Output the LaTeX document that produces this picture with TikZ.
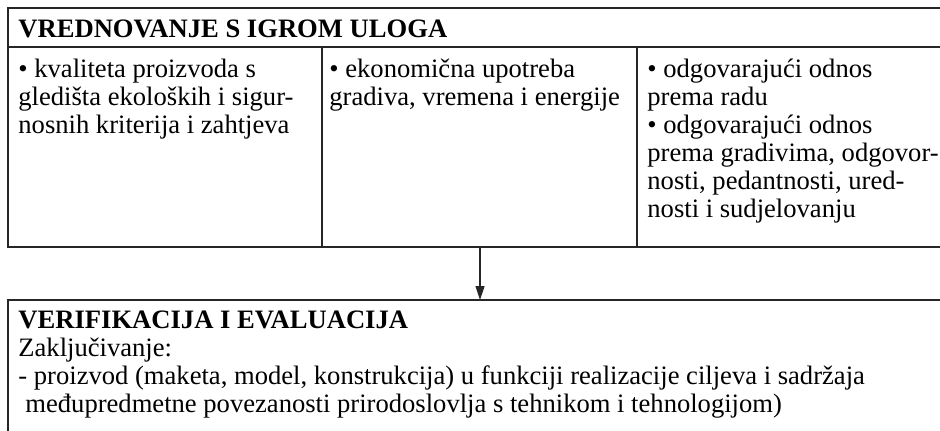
\documentclass[tikz,border=0pt]{standalone}
\usepackage{fontspec}
\setmainfont{Liberation Serif}
\usetikzlibrary{arrows.meta}

\tikzset{
  frame/.style={draw=black!85, line width=0.6pt},
  txt/.style={inner sep=0pt, anchor=base west, align=left, font=\fontsize{13.3}{14}\selectfont},
  hdr/.style={txt, font=\fontsize{13.3}{14}\selectfont\bfseries}
}

\begin{document}
\begin{tikzpicture}[x=0.5pt, y=-0.5pt]
    \clip (0,0) rectangle (940,430);
    % table on top
    \draw[frame] (8,8) rectangle (960,247);
    \draw[frame] (8,47) -- (960,47);
    \draw[frame] (322,47) -- (322,247);
    \draw[frame] (637,47) -- (637,247);
    % box below
    \draw[frame] (8,460) -- (8,300) -- (960,300);
    % texts (placed at the baseline of the last line)
    \node[hdr] (vrednovanje) at (18,37) {VREDNOVANJE S IGROM ULOGA};
    \node[txt] (kvaliteta) at (18,133) {• kvaliteta proizvoda s\\gledišta ekoloških i sigur-\\nosnih kriterija i zahtjeva};
    \node[txt] (ekonomicna) at (329,105) {• ekonomična upotreba\\gradiva, vremena i energije};
    \node[txt] (odnos) at (647,217) {• odgovarajući odnos\\prema radu\\• odgovarajući odnos\\prema gradivima, odgovor-\\nosti, pedantnosti, ured-\\nosti i sudjelovanju};
    \node[hdr] (verifikacija) at (18,328) {VERIFIKACIJA I EVALUACIJA};
    \node[txt] (zakljucivanje) at (18,412) {Zaključivanje:\\- proizvod (maketa, model, konstrukcija) u funkciji realizacije ciljeva i sadržaja\\\hspace*{3.5pt}međupredmetne povezanosti prirodoslovlja s tehnikom i tehnologijom)};
    % arrow
    \coordinate (tabdno) at (480,247);
    \coordinate (evalvrh) at (480,300);
    \draw[frame, -{Triangle[length=7pt,width=4.5pt]}] (tabdno) -- (evalvrh);
\end{tikzpicture}
\end{document}
